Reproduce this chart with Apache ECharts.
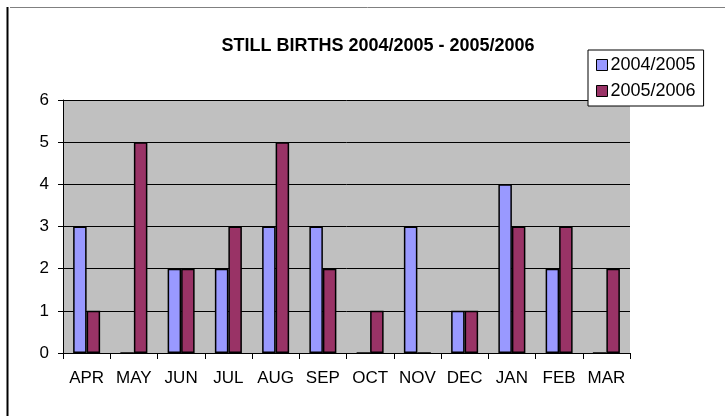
<!DOCTYPE html>
<html>
<head>
<meta charset="utf-8">
<title>Still births</title>
<script src="https://cdn.jsdelivr.net/npm/echarts@6/dist/echarts.min.js"></script>
<style>
  html, body { margin: 0; padding: 0; background: #fff; }
  #chart { width: 725px; height: 416px; }
</style>
</head>
<body>
<div id="chart"></div>
<script>
'use strict';
// 月份 (财年 4月 - 3月)
var months = ['APR', 'MAY', 'JUN', 'JUL', 'AUG', 'SEP', 'OCT', 'NOV', 'DEC', 'JAN', 'FEB', 'MAR'];
var seriesNames = ['2004/2005', '2005/2006'];
var births0405 = [3, 0, 2, 2, 3, 3, 0, 3, 1, 4, 2, 0];
var births0506 = [1, 5, 2, 3, 5, 2, 1, 0, 1, 3, 3, 2];
var yTicks = [0, 1, 2, 3, 4, 5, 6];

var font = '"Liberation Sans", Arial, sans-serif';
var chart = echarts.init(document.getElementById('chart'), null, { renderer: 'canvas' });

var option = {
    backgroundColor: '#fff',
    animation: false,
    title: {
        text: 'STILL BIRTHS 2004/2005 - 2005/2006',
        left: 373,
        top: 32,
        textAlign: 'center',
        textStyle: { fontFamily: font, fontSize: 18, fontWeight: 'bold', color: '#000' }
    },
    legend: {
        orient: 'vertical',
        left: 588,
        top: 50,
        padding: [6, 8, 6, 8],
        itemGap: 8,
        itemWidth: 11,
        itemHeight: 11,
        backgroundColor: '#fff',
        borderColor: '#000',
        borderWidth: 1,
        borderRadius: 0,
        icon: 'rect',
        itemStyle: { borderColor: '#000', borderWidth: 1 },
        textStyle: { fontFamily: font, fontSize: 18, color: '#000', padding: [0, 0, 0, -2] },
        data: seriesNames
    },
    grid: {
        left: 63,
        right: 95,
        top: 100,
        bottom: 63,
        show: true,
        backgroundColor: '#C0C0C0',
        borderWidth: 0
    },
    xAxis: {
        type: 'category',
        data: months,
        boundaryGap: true,
        axisLine: { show: true, lineStyle: { color: '#000', width: 1 } },
        axisTick: { show: true, length: 6, alignWithLabel: false, lineStyle: { color: '#000' } },
        axisLabel: { interval: 0, margin: 17, fontFamily: font, fontSize: 17, color: '#000' },
        splitLine: { show: false }
    },
    yAxis: {
        type: 'value',
        min: yTicks[0],
        max: yTicks[yTicks.length - 1],
        interval: 1,
        axisLine: { show: true, lineStyle: { color: '#000', width: 1 } },
        axisTick: { show: true, length: 5, lineStyle: { color: '#000' } },
        axisLabel: { margin: 14, fontFamily: font, fontSize: 17, color: '#000' },
        splitLine: { show: true, lineStyle: { color: '#000', width: 1 } }
    },
    series: [{
        name: seriesNames[0],
        type: 'bar',
        data: births0405,
        barWidth: 13.5,
        barGap: '0%',
        itemStyle: { color: '#9999FF', borderColor: '#000', borderWidth: 1.5 }
    }, {
        name: seriesNames[1],
        type: 'bar',
        data: births0506,
        barWidth: 13.5,
        barGap: '0%',
        itemStyle: { color: '#993366', borderColor: '#000', borderWidth: 1.5 }
    }],
    graphic: [{
        // 图表外框 (左边黑线 + 顶部灰线)
        type: 'line',
        shape: { x1: 7.5, y1: 7, x2: 7.5, y2: 416 },
        style: { stroke: '#000', lineWidth: 2 }
    }, {
        type: 'line',
        shape: { x1: 10, y1: 7.5, x2: 725, y2: 7.5 },
        style: { stroke: '#808080', lineWidth: 1 }
    }]
};
chart.setOption(option);
</script>
</body>
</html>
